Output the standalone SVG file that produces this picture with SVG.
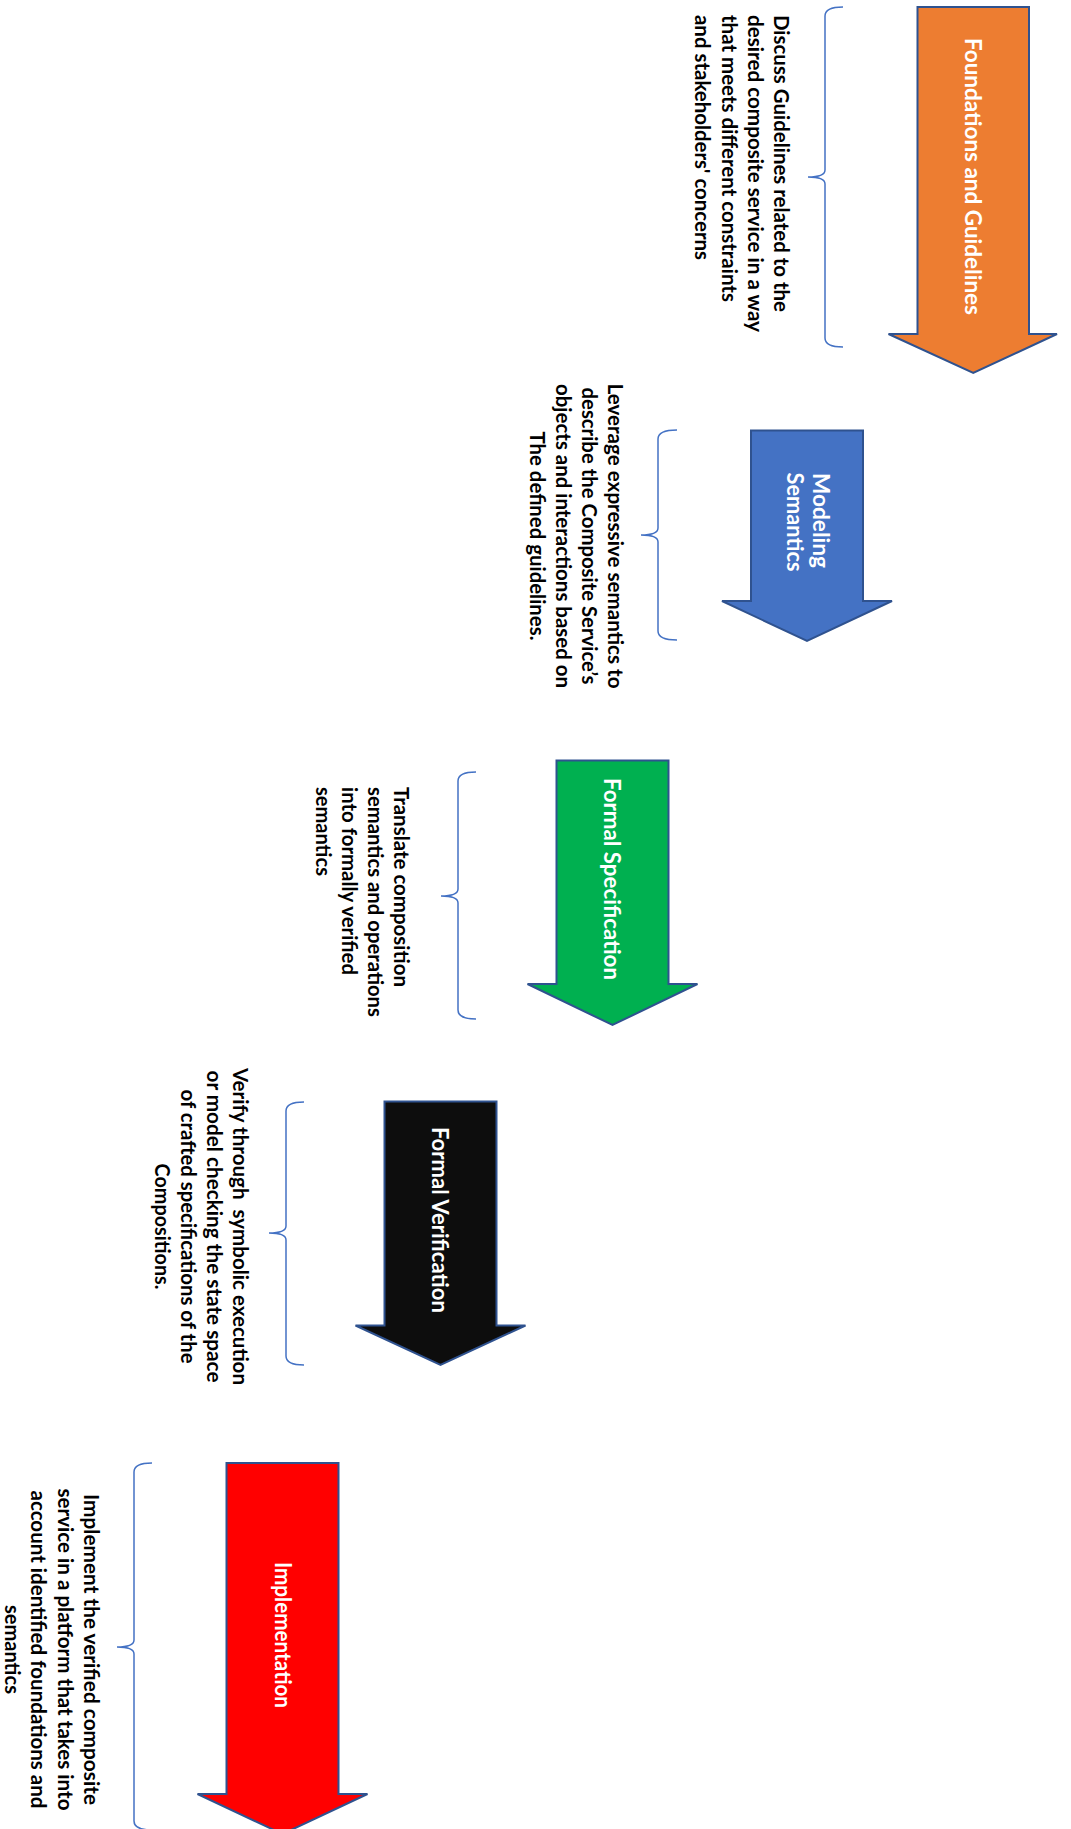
<svg xmlns="http://www.w3.org/2000/svg" width="1071" height="1829" viewBox="0 0 1071 1829">
  <style>
    .arrow { stroke: #2F528F; stroke-width: 2; stroke-linejoin: miter; }
    .label { font-family: Lato, "Liberation Sans", sans-serif; font-weight: 700; font-size: 23px; fill: #ffffff; text-anchor: middle; }
    .desc { font-family: Lato, "Liberation Sans", sans-serif; font-weight: 700; font-size: 21px; fill: #000000; }
    .mid { text-anchor: middle; }
    .brace { fill: none; stroke: #4472C4; stroke-width: 1.5; }
  </style>
  <rect width="1071" height="1829" fill="#ffffff"/>

  <!-- Braces linking each stage arrow to its description -->
  <g id="connectors">
    <path class="brace" d="M843,7 Q825,7 825,16 L825,170 Q825,177 808,177 Q825,177 825,184 L825,338 Q825,347 843,347"/>
    <path class="brace" d="M677,430 Q658,430 658,439 L658,528 Q658,535 641,535 Q658,535 658,542 L658,631 Q658,640 677,640"/>
    <path class="brace" d="M476,772 Q458,772 458,781 L458,889 Q458,896 441,896 Q458,896 458,903 L458,1010 Q458,1019 476,1019"/>
    <path class="brace" d="M304,1102 Q286,1102 286,1111 L286,1226 Q286,1233 269,1233 Q286,1233 286,1240 L286,1356 Q286,1365 304,1365"/>
    <path class="brace" d="M152,1463 Q134,1463 134,1472 L134,1640 Q134,1647 117,1647 Q134,1647 134,1654 L134,1821 Q134,1830 152,1830"/>
  </g>

  <!-- Stage 1 -->
  <g id="foundations">
    <polygon class="arrow" fill="#ED7D31" points="917.5,7 1029,7 1029,334 1057,334 973.25,373 888.5,334 917.5,334"/>
    <g transform="rotate(90)">
      <text class="label" x="176.5" y="-965" textLength="277" lengthAdjust="spacingAndGlyphs">Foundations and Guidelines</text>
    </g>
  </g>
  <g id="foundations-desc" transform="rotate(90)">
    <text class="desc" x="15" y="-774" textLength="297" lengthAdjust="spacingAndGlyphs">Discuss Guidelines related to the</text>
    <text class="desc" x="15" y="-748" textLength="317" lengthAdjust="spacingAndGlyphs">desired composite service in a way</text>
    <text class="desc" x="15" y="-721.5" textLength="287" lengthAdjust="spacingAndGlyphs">that meets different constraints</text>
    <text class="desc" x="15" y="-695" textLength="245" lengthAdjust="spacingAndGlyphs">and stakeholders' concerns</text>
  </g>

  <!-- Stage 2 -->
  <g id="modeling">
    <polygon class="arrow" fill="#4472C4" points="751,430.5 863,430.5 863,601 892,601 807,641 722,601 751,601"/>
    <g transform="rotate(90)">
      <text class="label" x="520.5" y="-813" textLength="95" lengthAdjust="spacingAndGlyphs">Modeling</text>
      <text class="label" x="522" y="-787" textLength="99" lengthAdjust="spacingAndGlyphs">Semantics</text>
    </g>
  </g>
  <g id="modeling-desc" transform="rotate(90)">
    <text class="desc mid" x="536" y="-607.5" textLength="305" lengthAdjust="spacingAndGlyphs">Leverage expressive semantics to</text>
    <text class="desc mid" x="536" y="-581.5" textLength="297" lengthAdjust="spacingAndGlyphs">describe the Composite Service’s</text>
    <text class="desc mid" x="536" y="-555.5" textLength="304" lengthAdjust="spacingAndGlyphs">objects and interactions based on</text>
    <text class="desc mid" x="536" y="-529.5" textLength="209" lengthAdjust="spacingAndGlyphs">The defined guidelines.</text>
  </g>

  <!-- Stage 3 -->
  <g id="specification">
    <polygon class="arrow" fill="#00B050" points="556.5,760.5 668.5,760.5 668.5,984 697.5,984 612.5,1025 527.5,984 556.5,984"/>
    <g transform="rotate(90)">
      <text class="label" x="879" y="-604" textLength="202" lengthAdjust="spacingAndGlyphs">Formal Specification</text>
    </g>
  </g>
  <g id="specification-desc" transform="rotate(90)">
    <text class="desc" x="787" y="-394" textLength="200" lengthAdjust="spacingAndGlyphs">Translate composition</text>
    <text class="desc" x="787" y="-368" textLength="230" lengthAdjust="spacingAndGlyphs">semantics and operations</text>
    <text class="desc" x="787" y="-342" textLength="188" lengthAdjust="spacingAndGlyphs">into formally verified</text>
    <text class="desc" x="787" y="-315.5" textLength="89" lengthAdjust="spacingAndGlyphs">semantics</text>
  </g>

  <!-- Stage 4 -->
  <g id="verification">
    <polygon class="arrow" fill="#0D0D0D" points="384.5,1101.5 496.5,1101.5 496.5,1325.5 525.5,1325.5 440.5,1365 355.5,1325.5 384.5,1325.5"/>
    <g transform="rotate(90)">
      <text class="label" x="1220" y="-432" textLength="186" lengthAdjust="spacingAndGlyphs">Formal Verification</text>
    </g>
  </g>
  <g id="verification-desc" transform="rotate(90)">
    <text class="desc mid" x="1226.5" y="-232.5" textLength="317" lengthAdjust="spacingAndGlyphs">Verify through&#160; symbolic execution</text>
    <text class="desc mid" x="1226.5" y="-206.5" textLength="312" lengthAdjust="spacingAndGlyphs">or model checking the state space</text>
    <text class="desc mid" x="1226.5" y="-180.5" textLength="274" lengthAdjust="spacingAndGlyphs">of crafted specifications of the</text>
    <text class="desc mid" x="1226.5" y="-154.5" textLength="126" lengthAdjust="spacingAndGlyphs">Compositions.</text>
  </g>

  <!-- Stage 5 -->
  <g id="implementation">
    <polygon class="arrow" fill="#FF0000" points="226.5,1463 338.5,1463 338.5,1794 367.5,1794 282.5,1834 197.5,1794 226.5,1794"/>
    <g transform="rotate(90)">
      <text class="label" x="1635" y="-275" textLength="146" lengthAdjust="spacingAndGlyphs">Implementation</text>
    </g>
  </g>
  <g id="implementation-desc" transform="rotate(90)">
    <text class="desc mid" x="1649.5" y="-84" textLength="311" lengthAdjust="spacingAndGlyphs">Implement the verified composite</text>
    <text class="desc mid" x="1649.5" y="-57.5" textLength="322" lengthAdjust="spacingAndGlyphs">service in a platform that takes into</text>
    <text class="desc mid" x="1649.5" y="-31" textLength="318" lengthAdjust="spacingAndGlyphs">account identified foundations and</text>
    <text class="desc mid" x="1649.5" y="-4.5" textLength="89" lengthAdjust="spacingAndGlyphs">semantics</text>
  </g>
</svg>
